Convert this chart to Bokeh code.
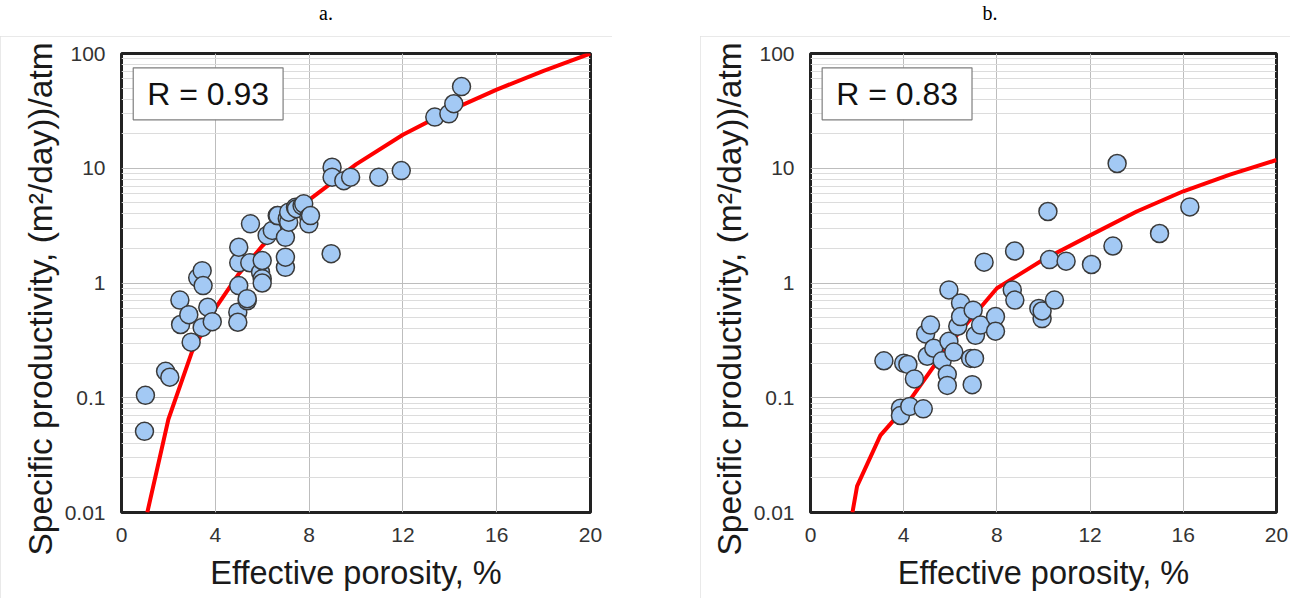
from bokeh.plotting import figure
from bokeh.layouts import row, column
from bokeh.models import FixedTicker, Label, Spacer, Title, Div
from bokeh.embed import file_html
from bokeh.resources import INLINE

# ---------------- data ----------------
x_ticks = [0, 4, 8, 12, 16, 20]
y_ticks = [0.01, 0.1, 1, 10, 100]
y_tick_labels = ["0.01", "0.1", "1", "10", "100"]

# panel a scatter
a_x = [0.98, 1.02, 1.88, 2.06, 2.49, 2.52, 2.87, 2.97, 3.25, 3.44, 3.44, 3.48, 3.68, 3.87,
       4.96, 4.96, 5.0, 5.0, 5.0, 5.36, 5.36, 5.47, 5.5, 5.93, 6.0, 6.0, 6.0, 6.21, 6.43,
       6.64, 6.67, 6.99, 6.99, 6.99, 7.07, 7.13, 7.13, 7.42, 7.46, 7.7, 7.77, 7.99, 7.99,
       8.06, 8.94, 8.98, 8.98, 9.48, 9.77, 10.97, 11.93, 13.36, 13.96, 14.17, 14.5]
a_y = [0.051, 0.105, 0.17, 0.151, 0.71, 0.435, 0.53, 0.305, 1.11, 1.28, 0.41, 0.95, 0.615, 0.46,
       0.557, 0.455, 0.95, 1.5, 2.05, 0.70, 0.73, 1.5, 3.28, 1.24, 1.57, 1.09, 1.0, 2.6, 2.87,
       3.87, 3.87, 1.37, 1.68, 2.5, 3.63, 3.39, 4.14, 4.57, 4.44, 4.73, 4.9, 3.74, 3.28,
       3.87, 1.8, 10.2, 8.36, 7.8, 8.36, 8.36, 9.55, 27.9, 29.8, 36.5, 51.5]
# panel a trend line
a_fit_x = [1.1, 2, 3, 4, 5, 6, 8, 10, 12, 14, 16, 18, 20]
a_fit_y = [0.01, 0.065, 0.25, 0.6, 1.2, 2.1, 5.3, 10.8, 19.6, 31.8, 48.5, 70.5, 100]
a_r = "R = 0.93"

# panel b scatter
b_x = [3.15, 3.86, 3.86, 4.0, 4.18, 4.26, 4.46, 4.84, 4.94, 5.01, 5.15, 5.29, 5.65, 5.87, 5.87,
       5.94, 5.94, 6.15, 6.32, 6.44, 6.44, 6.87, 6.94, 6.98, 7.04, 7.08, 7.3, 7.45, 7.94, 7.94,
       8.66, 8.76, 8.77, 9.8, 9.94, 9.94, 10.19, 10.26, 10.47, 10.97, 12.06, 12.98, 13.16,
       14.98, 16.28]
b_y = [0.21, 0.081, 0.07, 0.2, 0.195, 0.084, 0.146, 0.08, 0.36, 0.23, 0.43, 0.27, 0.21, 0.16, 0.128,
       0.31, 0.87, 0.25, 0.42, 0.67, 0.51, 0.22, 0.13, 0.58, 0.22, 0.35, 0.43, 1.52, 0.51, 0.38,
       0.87, 1.9, 0.71, 0.6, 0.49, 0.57, 4.2, 1.6, 0.71, 1.55, 1.45, 2.1, 11.0,
       2.7, 4.6]
b_fit_x = [1.8, 2, 3, 4, 6, 8, 10, 12, 14, 16, 18, 20]
b_fit_y = [0.01, 0.017, 0.047, 0.08, 0.3, 0.9, 1.6, 2.6, 4.2, 6.3, 8.8, 11.8]
b_r = "R = 0.83"

x_label = "Effective porosity, %"
y_label = "Specific productivity, (m²/day))/atm"

minor = [m * d for d in [0.01, 0.1, 1, 10] for m in range(2, 10)]
SANS = "Liberation Sans"
HEAD_H = 36


def caption(text, width, shift):
    html = ('<div style="width:%dpx;text-align:center;font-family:\'Liberation Serif\';'
            'font-size:20px;line-height:20px;padding-top:3px;color:#000;'
            'position:relative;left:%dpx;">%s</div>' % (width, shift, text))
    return Div(text=html, width=width, height=HEAD_H, margin=0)


def make_panel(xs, ys, fx, fy, rtext, width, mb_left, mb_right):
    p = figure(width=width, height=598 - HEAD_H, x_range=(0, 20), y_range=(0.01, 100),
               y_axis_type="log", output_backend="svg", toolbar_location=None,
               min_border_left=mb_left, min_border_right=mb_right,
               min_border_top=53 - HEAD_H, min_border_bottom=86)

    p.xaxis.ticker = FixedTicker(ticks=x_ticks)
    p.yaxis.ticker = FixedTicker(ticks=y_ticks, minor_ticks=minor)
    p.yaxis.major_label_overrides = {t: l for t, l in zip(y_ticks, y_tick_labels)}
    for ax in (p.xaxis[0], p.yaxis[0]):
        ax.axis_line_color = None
        ax.major_tick_line_color = None
        ax.minor_tick_line_color = None
        ax.major_label_text_font = SANS
        ax.major_label_text_font_size = "21px"
        ax.major_label_text_color = "#333333"
        ax.axis_label_text_font = SANS
        ax.axis_label_text_font_size = "32.5px"
        ax.axis_label_text_font_style = "normal"
        ax.axis_label_text_color = "#1a1a1a"
    p.xaxis.major_label_standoff = 9
    p.yaxis.major_label_standoff = 10
    p.xaxis.axis_label = x_label
    p.xaxis.axis_label_standoff = 10

    # y axis title as a side title so it can sit slightly below the frame centre
    ytitle = Title(text=y_label, align="left", offset=-43, text_font=SANS,
                   text_font_size="33.5px", text_font_style="normal",
                   text_color="#1a1a1a", standoff=6)
    p.add_layout(ytitle, "left")

    p.xgrid.grid_line_color = "#bdbdbd"
    p.xgrid.grid_line_width = 1
    p.ygrid.grid_line_color = "#bdbdbd"
    p.ygrid.minor_grid_line_color = "#dcdcdc"

    p.outline_line_color = "#222222"
    p.outline_line_width = 3

    p.line(fx, fy, line_color="#ff0000", line_width=4)
    p.scatter(xs, ys, size=18, fill_color="#a3c9f4", line_color="#3a3a3a", line_width=1.5)

    lab = Label(x=0.5, y=75, text=rtext, text_font=SANS, text_font_size="32px",
                text_color="#111111", text_align="left", text_baseline="top",
                border_line_color="#7f7f7f", border_line_width=1.2,
                background_fill_color="white",
                padding=dict(left=14, right=14, top=8, bottom=8))
    p.add_layout(lab)
    p.styles = {"outline": "1px solid #e2e2e2", "outline-offset": "-1px"}
    return p


pa = make_panel(a_x, a_y, a_fit_x, a_fit_y, a_r, 612, 121, 22)
pb = make_panel(b_x, b_y, b_fit_x, b_fit_y, b_r, 590, 110, 14)

layout = row(column(caption("a.", 612, 20), pa), Spacer(width=88),
             column(caption("b.", 590, -5), pb))
open("out.html", "w").write(file_html(layout, INLINE))
